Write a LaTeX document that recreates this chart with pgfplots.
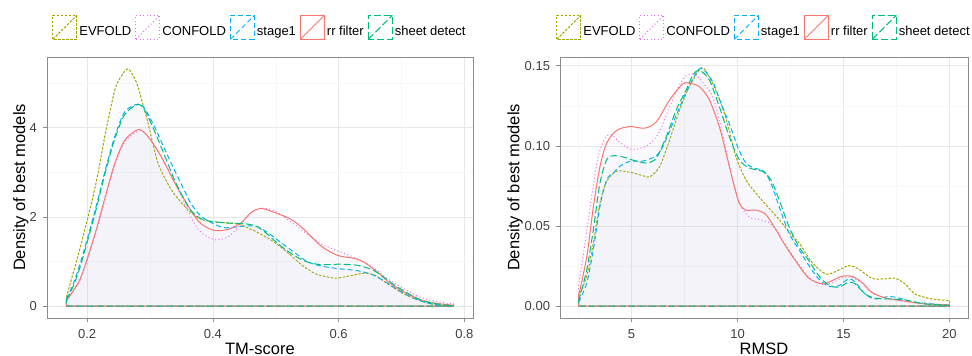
\documentclass[border=0pt]{standalone}
\usepackage{pgfplots}
\pgfplotsset{compat=1.18}
\usepackage{fontspec}
\setmainfont{Liberation Sans}
\definecolor{cev}{HTML}{A3A500}
\definecolor{ccon}{HTML}{E76BF3}
\definecolor{cst}{HTML}{00B0F6}
\definecolor{crr}{HTML}{F8766D}
\definecolor{csh}{HTML}{00BF7D}
\definecolor{fillc}{RGB}{190,190,225}

\pgfplotstableread{
x y
0.167 0.20
0.178 0.75
0.191 1.42
0.213 2.68
0.229 3.87
0.244 4.84
0.254 5.15
0.265 5.32
0.275 5.12
0.281 4.91
0.297 4.10
0.313 3.20
0.334 2.61
0.350 2.32
0.365 2.10
0.381 1.95
0.397 1.90
0.418 1.87
0.440 1.84
0.455 1.76
0.477 1.61
0.498 1.43
0.519 1.20
0.540 0.94
0.561 0.74
0.580 0.66
0.598 0.63
0.625 0.70
0.641 0.74
0.657 0.70
0.678 0.50
0.704 0.27
0.730 0.12
0.752 0.04
0.783 0.00
}\tmev
\pgfplotstableread{
x y
0.167 0.12
0.178 0.33
0.191 0.65
0.213 1.60
0.229 2.42
0.244 3.15
0.260 3.68
0.283 3.93
0.297 3.80
0.318 3.35
0.340 2.75
0.365 2.00
0.381 1.66
0.402 1.49
0.424 1.55
0.445 1.84
0.461 2.10
0.477 2.20
0.498 2.14
0.524 1.89
0.545 1.67
0.572 1.40
0.598 1.24
0.625 1.09
0.651 0.91
0.678 0.61
0.704 0.39
0.730 0.20
0.757 0.10
0.783 0.05
}\tmcon
\pgfplotstableread{
x y
0.167 0.16
0.178 0.50
0.191 1.05
0.213 2.16
0.229 3.06
0.244 3.80
0.260 4.36
0.281 4.53
0.292 4.42
0.308 4.00
0.324 3.50
0.340 3.02
0.358 2.50
0.366 2.28
0.381 2.02
0.402 1.84
0.418 1.76
0.434 1.77
0.455 1.80
0.471 1.78
0.487 1.65
0.508 1.43
0.530 1.20
0.550 1.00
0.572 0.90
0.600 0.84
0.628 0.80
0.651 0.72
0.667 0.61
0.688 0.42
0.710 0.24
0.730 0.12
0.752 0.04
0.783 0.00
}\tmst
\pgfplotstableread{
x y
0.167 0.12
0.178 0.35
0.191 0.68
0.213 1.64
0.229 2.46
0.244 3.20
0.260 3.72
0.282 3.96
0.297 3.80
0.318 3.35
0.340 2.75
0.365 2.15
0.381 1.85
0.402 1.70
0.424 1.72
0.445 1.87
0.461 2.10
0.477 2.19
0.498 2.10
0.524 1.95
0.545 1.72
0.572 1.35
0.598 1.14
0.625 1.07
0.641 0.98
0.662 0.76
0.683 0.50
0.710 0.27
0.736 0.12
0.757 0.06
0.783 0.02
}\tmrr
\pgfplotstableread{
x y
0.167 0.14
0.178 0.45
0.191 0.98
0.213 2.10
0.229 3.00
0.244 3.75
0.260 4.30
0.281 4.52
0.292 4.38
0.308 3.90
0.324 3.35
0.340 2.80
0.358 2.30
0.366 2.13
0.381 1.96
0.402 1.89
0.429 1.86
0.455 1.84
0.471 1.78
0.487 1.61
0.508 1.35
0.530 1.13
0.550 0.99
0.572 0.93
0.600 0.94
0.628 0.92
0.651 0.83
0.667 0.70
0.688 0.48
0.710 0.29
0.730 0.14
0.752 0.06
0.783 0.00
}\tmsh

\pgfplotstableread{
x y
2.50 0.0060
2.89 0.0190
3.20 0.0395
3.51 0.0644
3.83 0.0779
4.30 0.0841
4.92 0.0835
5.54 0.0814
5.86 0.0806
6.33 0.0872
6.80 0.1038
7.27 0.1224
7.73 0.1370
8.20 0.1473
8.43 0.1480
8.83 0.1390
9.22 0.1266
9.61 0.1100
9.92 0.0934
10.39 0.0789
10.86 0.0706
11.33 0.0634
11.96 0.0541
12.58 0.0437
12.89 0.0398
13.52 0.0273
14.15 0.0201
14.62 0.0215
15.24 0.0252
15.71 0.0232
16.33 0.0174
16.96 0.0170
17.43 0.0174
17.90 0.0139
18.37 0.0076
18.99 0.0050
19.50 0.0040
20.00 0.0035
}\rmev
\pgfplotstableread{
x y
2.50 0.0126
2.81 0.0395
3.12 0.0686
3.43 0.0934
3.75 0.1048
4.06 0.1069
4.45 0.1021
4.92 0.0980
5.39 0.0984
5.86 0.1013
6.33 0.1090
6.80 0.1245
7.27 0.1380
7.60 0.1440
8.00 0.1445
8.40 0.1390
8.83 0.1307
9.14 0.1162
9.46 0.0975
9.77 0.0789
10.08 0.0644
10.55 0.0557
11.02 0.0541
11.49 0.0520
11.80 0.0480
12.27 0.0380
12.74 0.0290
13.36 0.0180
13.99 0.0135
14.46 0.0145
14.92 0.0175
15.39 0.0180
15.86 0.0145
16.33 0.0085
16.96 0.0050
17.90 0.0030
18.84 0.0014
20.00 0.0008
}\rmcon
\pgfplotstableread{
x y
2.50 0.0023
2.89 0.0147
3.20 0.0354
3.51 0.0623
3.83 0.0789
4.14 0.0830
4.45 0.0872
4.92 0.0903
5.54 0.0905
6.17 0.0938
6.48 0.0996
6.95 0.1141
7.42 0.1287
7.73 0.1376
8.12 0.1470
8.36 0.1480
8.83 0.1400
9.22 0.1266
9.61 0.1141
10.00 0.0996
10.39 0.0893
10.78 0.0862
11.25 0.0841
11.57 0.0768
11.96 0.0623
12.42 0.0458
12.89 0.0355
13.36 0.0255
13.83 0.0170
14.30 0.0124
14.77 0.0127
15.24 0.0170
15.55 0.0150
16.02 0.0076
16.49 0.0045
17.12 0.0060
17.58 0.0052
18.37 0.0025
20.00 0.0005
}\rmst
\pgfplotstableread{
x y
2.50 0.0064
2.89 0.0310
3.20 0.0620
3.51 0.0870
3.83 0.1017
4.30 0.1096
4.92 0.1120
5.62 0.1110
6.17 0.1150
6.80 0.1287
7.42 0.1386
7.73 0.1390
8.20 0.1369
8.67 0.1287
9.14 0.1120
9.46 0.0955
9.77 0.0789
10.08 0.0644
10.39 0.0599
10.86 0.0599
11.33 0.0572
11.80 0.0479
12.27 0.0375
12.74 0.0282
13.36 0.0175
13.99 0.0139
14.46 0.0159
14.92 0.0186
15.39 0.0186
15.86 0.0149
16.33 0.0087
16.96 0.0052
17.90 0.0031
18.84 0.0014
20.00 0.0008
}\rmrr
\pgfplotstableread{
x y
2.50 0.0030
2.89 0.0230
3.20 0.0479
3.51 0.0768
3.83 0.0914
4.14 0.0938
4.61 0.0930
5.08 0.0910
5.70 0.0893
6.17 0.0924
6.64 0.1058
7.11 0.1224
7.58 0.1349
7.89 0.1442
8.20 0.1470
8.67 0.1411
9.14 0.1245
9.61 0.1058
10.08 0.0914
10.55 0.0862
11.17 0.0841
11.57 0.0789
11.96 0.0665
12.42 0.0499
12.89 0.0372
13.36 0.0285
13.83 0.0190
14.30 0.0132
14.77 0.0118
15.24 0.0149
15.55 0.0139
16.02 0.0076
16.49 0.0050
17.12 0.0045
17.90 0.0039
18.84 0.0014
20.00 0.0005
}\rmsh

\pgfplotsset{
  densaxis/.style={
    scale only axis, height=261bp,
    axis line style={draw=black!45, line width=0.6bp},
    grid=both,
    major grid style={draw=black!9, line width=0.6bp},
    minor grid style={draw=black!3, line width=0.4bp},
    tick align=outside,
    major tick length=4bp, minor tick length=0pt,
    tick style={draw=black!45, line width=0.6bp},
    xtick pos=bottom, ytick pos=left,
    scaled ticks=false,
    /pgf/number format/assume math mode=true,
    tick label style={font=\fontsize{13bp}{15bp}\selectfont, text=black!75},
    xticklabel style={anchor=base, yshift=-16.5bp},
    yticklabel style={anchor=east, xshift=-2.5bp},
    label style={font=\fontsize{16.5bp}{19bp}\selectfont},
    legend style={at={(axis description cs:0.5,1)}, anchor=south, yshift=17bp,
      draw=none, fill=none, inner sep=0pt, legend columns=-1,
      font=\fontsize{13bp}{15bp}\selectfont,
      nodes={inner sep=2bp},
      /tikz/every even column/.append style={column sep=2bp}},
    legend image code/.code={
      \draw[#1, fill=none] (0bp,-7.5bp) rectangle (24bp,16.5bp);
      \draw[#1, fill=none] (0bp,-7.5bp) -- (24bp,16.5bp);
    },
    every axis plot/.append style={line width=1bp, smooth, fill=fillc, fill opacity=0.04},
  },
  sev/.style={draw=cev, dash pattern=on 2.5bp off 1.5bp},
  scon/.style={draw=ccon, dash pattern=on 1bp off 2.5bp},
  sst/.style={draw=cst, dash pattern=on 5bp off 3bp},
  srr/.style={draw=crr},
  ssh/.style={draw=csh, dash pattern=on 7bp off 3bp},
}

\begin{document}
\begin{tikzpicture}
\useasboundingbox (0,0) rectangle (972bp,356bp);
\begin{axis}[densaxis, width=426bp, at={(47bp,38bp)}, anchor=south west,
  xmin=0.1362, xmax=0.8138, ymin=-0.266, ymax=5.586,
  xtick={0.2,0.4,0.6,0.8}, minor xtick={0.3,0.5,0.7},
  ytick={0,2,4}, minor ytick={1,3,5},
  xlabel={TM-score}, ylabel={Density of best models},
  xlabel style={at={(axis description cs:0.5,-0.141)}, anchor=base},
  ylabel style={at={(axis description cs:-0.0516,0.5)}, anchor=base},
]
\addplot[sev] table {\tmev} \closedcycle;
\addlegendentry{EVFOLD}
\addplot[scon] table {\tmcon} \closedcycle;
\addlegendentry{CONFOLD}
\addplot[sst] table {\tmst} \closedcycle;
\addlegendentry{stage1}
\addplot[srr] table {\tmrr} \closedcycle;
\addlegendentry{rr filter}
\addplot[ssh] table {\tmsh} \closedcycle;
\addlegendentry{sheet detect}
\end{axis}
\begin{axis}[densaxis, width=408bp, at={(560bp,38bp)}, anchor=south west,
  xmin=1.625, xmax=20.875, ymin=-0.0074, ymax=0.1554,
  xtick={5,10,15,20}, minor xtick={2.5,7.5,12.5,17.5},
  ytick={0,0.05,0.10,0.15}, minor ytick={0.025,0.075,0.125},
  yticklabel style={/pgf/number format/.cd, fixed, fixed zerofill, precision=2},
  xlabel={RMSD}, ylabel={Density of best models},
  xlabel style={at={(axis description cs:0.5,-0.141)}, anchor=base},
  ylabel style={at={(axis description cs:-0.0993,0.5)}, anchor=base},
]
\addplot[sev] table {\rmev} \closedcycle;
\addlegendentry{EVFOLD}
\addplot[scon] table {\rmcon} \closedcycle;
\addlegendentry{CONFOLD}
\addplot[sst] table {\rmst} \closedcycle;
\addlegendentry{stage1}
\addplot[srr] table {\rmrr} \closedcycle;
\addlegendentry{rr filter}
\addplot[ssh] table {\rmsh} \closedcycle;
\addlegendentry{sheet detect}
\end{axis}
\end{tikzpicture}
\end{document}
